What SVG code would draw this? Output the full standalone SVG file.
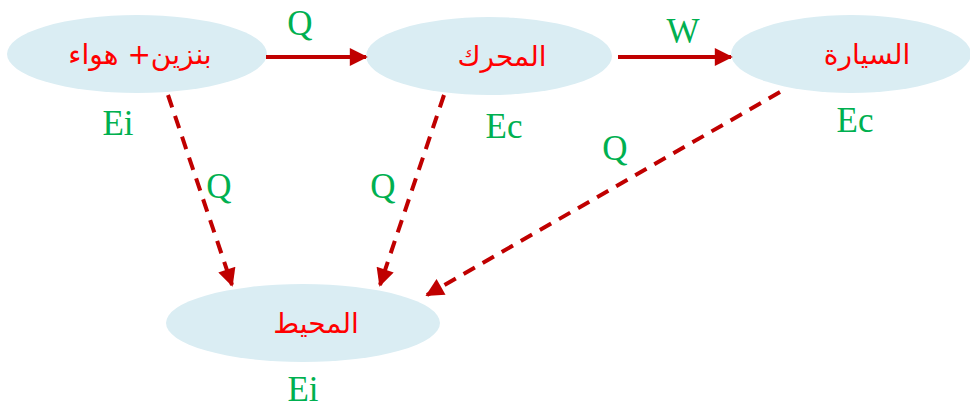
<svg xmlns="http://www.w3.org/2000/svg" width="970" height="410" viewBox="0 0 970 410">
<style>
.node{fill:#DAEDF3}
.ar{font-family:"DejaVu Sans","Liberation Sans",sans-serif;font-size:28px;fill:#FF0000;text-anchor:middle}
.lb{font-family:"Liberation Serif",serif;font-size:35px;fill:#00B050;text-anchor:middle}
.c{stroke:#C00000;stroke-width:4;fill:none}
.d{stroke-dasharray:13 9}
</style>
<defs>
<marker id="ah" viewBox="0 0 10 10" refX="9" refY="5" markerWidth="5" markerHeight="4.5" orient="auto" markerUnits="strokeWidth">
<path d="M0,0 L10,5 L0,10 z" fill="#C00000"/>
</marker>
</defs>
<rect width="970" height="410" fill="#FFFFFF"/>
<g id="node-fuel">
<ellipse class="node" cx="137" cy="54" rx="130" ry="39"/>
<text class="ar" x="140" y="64" direction="rtl">بنزين+ هواء</text>
<text class="lb" x="118" y="135">Ei</text>
</g>
<g id="node-engine">
<ellipse class="node" cx="489" cy="56" rx="123" ry="39"/>
<text class="ar" x="502" y="66" direction="rtl">المحرك</text>
<text class="lb" x="504" y="138">Ec</text>
</g>
<g id="node-car">
<ellipse class="node" cx="851" cy="54" rx="120" ry="39"/>
<text class="ar" x="867" y="64" direction="rtl">السيارة</text>
<text class="lb" x="855" y="132">Ec</text>
</g>
<g id="node-env">
<ellipse class="node" cx="303" cy="323" rx="137" ry="39"/>
<text class="ar" x="316" y="333" direction="rtl">المحيط</text>
<text class="lb" x="303" y="401">Ei</text>
</g>
<g id="connectors">
<line class="c" x1="266" y1="57" x2="366" y2="57" marker-end="url(#ah)"/>
<line class="c" x1="618" y1="57" x2="731" y2="57" marker-end="url(#ah)"/>
<line class="c d" x1="168" y1="95" x2="232" y2="285" marker-end="url(#ah)"/>
<line class="c d" x1="444" y1="95" x2="380" y2="285" marker-end="url(#ah)"/>
<line class="c d" x1="780" y1="92" x2="427" y2="295" marker-end="url(#ah)"/>
<text class="lb" x="300" y="35">Q</text>
<text class="lb" x="683" y="43">W</text>
<text class="lb" x="219" y="198">Q</text>
<text class="lb" x="383" y="198">Q</text>
<text class="lb" x="615" y="160">Q</text>
</g>
</svg>
